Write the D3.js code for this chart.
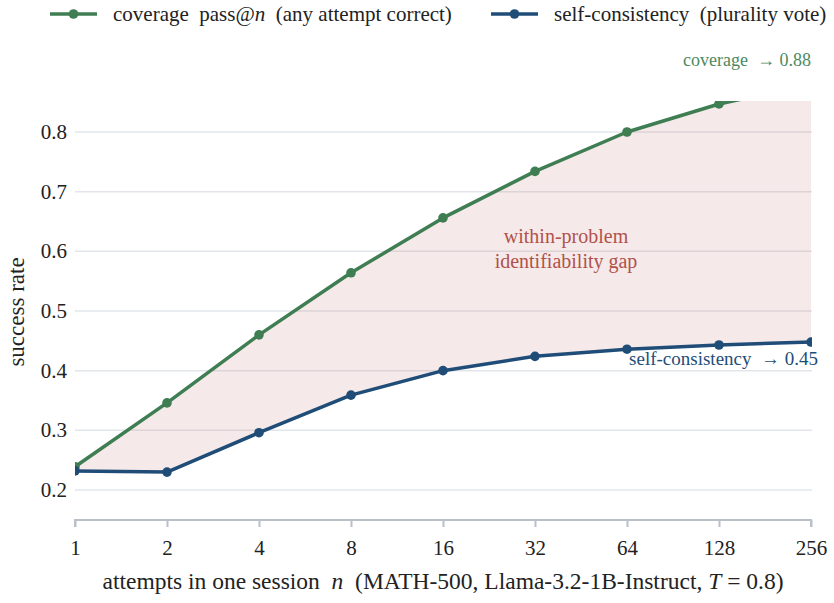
<!DOCTYPE html>
<html>
<head>
<meta charset="utf-8">
<script src="https://cdn.jsdelivr.net/npm/d3@7"></script>
<style>
  body { margin: 0; background: #ffffff; }
  svg { font-family: "Liberation Serif", "Times New Roman", "DejaVu Serif", serif; }
  svg text { white-space: pre; }
</style>
</head>
<body>
<svg id="chart" width="834" height="603"></svg>
<script>
// attempts n (log2 axis)
const attempts = [1, 2, 4, 8, 16, 32, 64, 128, 256];
// coverage pass@n
const coverage = [0.239, 0.346, 0.460, 0.564, 0.656, 0.734, 0.800, 0.847, 0.88];
// self-consistency (plurality vote)
const selfConsistency = [0.232, 0.230, 0.296, 0.359, 0.400, 0.424, 0.436, 0.443, 0.448];
const yTicks = [0.2, 0.3, 0.4, 0.5, 0.6, 0.7, 0.8];

const colGreen = "#3f7d53";
const colBlue = "#1f4d78";
const colText = "#222222";
const serif = "\"Liberation Serif\", \"Times New Roman\", serif";

const svg = d3.select("#chart");
const mLeft = 75, mRight = 812, mTop = 101, mBottom = 520;

const x = d3.scaleLog().base(2).domain([1, 256]).range([mLeft, mRight - 1]);
const y = d3.scaleLinear().domain([0.2, 0.8]).range([490, 132]);

// clip
svg.append("defs").append("clipPath").attr("id", "plotclip")
  .append("rect")
  .attr("x", mLeft).attr("y", mTop)
  .attr("width", mRight - mLeft).attr("height", mBottom - mTop);

// gridlines
const g_grid = svg.append("g");
g_grid.selectAll("line").data(yTicks).enter().append("line")
  .attr("x1", mLeft).attr("x2", mRight)
  .attr("y1", d => y(d)).attr("y2", d => y(d))
  .attr("stroke", "#e2e6eb").attr("stroke-width", 1.5);

// y tick labels
svg.append("g").selectAll("text").data(yTicks).enter().append("text")
  .attr("x", 67).attr("y", d => y(d) + 7)
  .attr("text-anchor", "end")
  .style("font-family", serif)
  .style("font-size", "21px").style("fill", colText)
  .text(d => d3.format(".1f")(d));

const plot = svg.append("g").attr("clip-path", "url(#plotclip)");

// gap area
const area = d3.area()
  .x((d, i) => x(attempts[i]))
  .y0((d, i) => y(selfConsistency[i]))
  .y1((d, i) => y(coverage[i]));
plot.append("path")
  .datum(attempts)
  .attr("d", area)
  .attr("fill", "#c97a7a").attr("fill-opacity", 0.17);

const line = d3.line().x(d => x(d[0])).y(d => y(d[1]));
function drawSeries(vals, color) {
  const pts = attempts.map((a, i) => [a, vals[i]]);
  plot.append("path").datum(pts)
    .attr("d", line)
    .attr("fill", "none").attr("stroke", color)
    .attr("stroke-width", 3.5).attr("stroke-linejoin", "round");
  plot.selectAll(null).data(pts).enter().append("circle")
    .attr("cx", d => x(d[0])).attr("cy", d => y(d[1]))
    .attr("r", 4.8).attr("fill", color);
}
drawSeries(coverage, colGreen);
drawSeries(selfConsistency, colBlue);

// x axis
const xAxis = d3.axisBottom(x).tickValues(attempts).tickFormat(d3.format("d"))
  .tickSize(7);
const g_x = svg.append("g").attr("transform", "translate(0," + mBottom + ")").call(xAxis);
g_x.attr("font-family", null);
g_x.select(".domain").attr("stroke", "#b9c0ca").attr("stroke-width", 2)
  .attr("d", "M" + mLeft + ",7V0H" + (mRight - 1) + "V7");
g_x.selectAll(".tick line").attr("stroke", "#b9c0ca").attr("stroke-width", 2);
g_x.selectAll(".tick text")
  .attr("y", 35).attr("dy", null)
  .style("font-size", "21px").style("fill", colText)
  .style("font-family", serif);

// axis titles
const xt = svg.append("text")
  .attr("x", 443).attr("y", 589).attr("text-anchor", "middle")
  .style("font-family", serif)
  .style("font-size", "23.5px").style("fill", colText);
xt.append("tspan").text("attempts in one session  ");
xt.append("tspan").style("font-style", "italic").text("n");
xt.append("tspan").text("  (MATH-500, Llama-3.2-1B-Instruct, ");
xt.append("tspan").style("font-style", "italic").text("T");
xt.append("tspan").text(" = 0.8)");

svg.append("text")
  .attr("transform", "translate(24,312) rotate(-90)")
  .attr("text-anchor", "middle")
  .style("font-family", serif)
  .style("font-size", "23px").style("fill", colText)
  .text("success rate");

// annotations
svg.append("text")
  .attr("x", 811).attr("y", 66).attr("text-anchor", "end")
  .style("font-family", serif)
  .style("font-size", "18px").style("fill", "#4c8a5f")
  .text("coverage  \u2192 0.88");
svg.append("text")
  .attr("x", 818).attr("y", 365).attr("text-anchor", "end")
  .style("font-family", serif)
  .style("font-size", "19px").style("fill", colBlue)
  .text("self-consistency  \u2192 0.45");
const gap = svg.append("text")
  .attr("text-anchor", "middle")
  .style("font-family", serif)
  .style("font-size", "20px").style("fill", "#b0524b");
gap.append("tspan").attr("x", 566).attr("y", 243).text("within-problem");
gap.append("tspan").attr("x", 566).attr("y", 268).text("identifiability gap");

// legend
const legend = [
  { color: colGreen, x: 50, parts: [["coverage  pass@", false], ["n", true], ["  (any attempt correct)", false]] },
  { color: colBlue, x: 491, parts: [["self-consistency  (plurality vote)", false]] }
];
legend.forEach(l => {
  const g = svg.append("g");
  g.append("line").attr("x1", l.x).attr("x2", l.x + 47).attr("y1", 14).attr("y2", 14)
    .attr("stroke", l.color).attr("stroke-width", 3.5);
  g.append("circle").attr("cx", l.x + 23.5).attr("cy", 14).attr("r", 4.8).attr("fill", l.color);
  const t = g.append("text").attr("x", l.x + 63).attr("y", 21)
    .style("font-family", serif)
    .style("font-size", "21px").style("fill", colText);
  l.parts.forEach(p => t.append("tspan").style("font-style", p[1] ? "italic" : "normal").text(p[0]));
});
</script>
</body>
</html>
